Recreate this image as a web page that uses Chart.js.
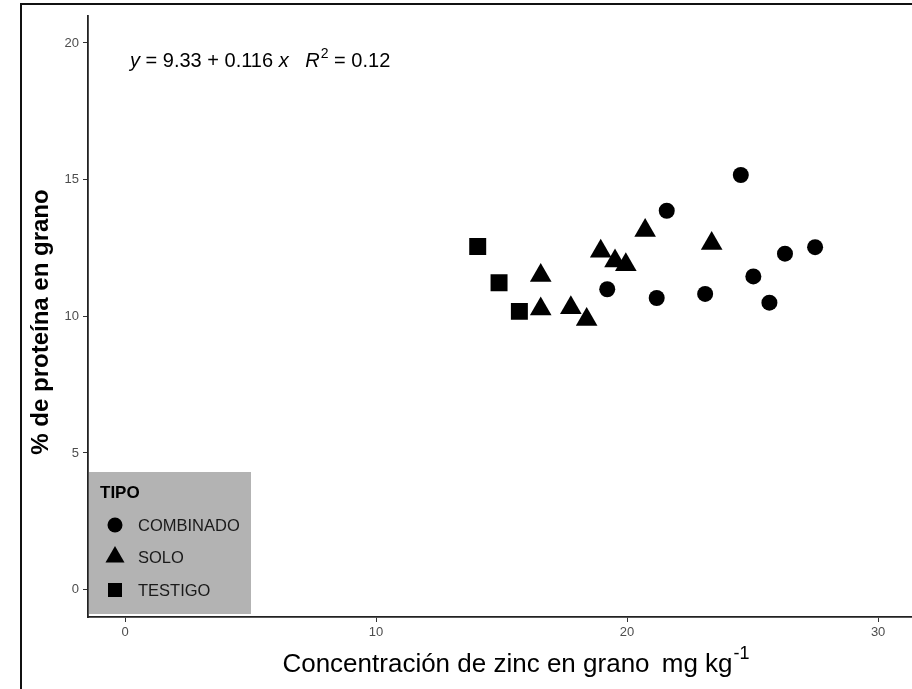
<!DOCTYPE html>
<html>
<head>
<meta charset="utf-8">
<script src="https://cdn.jsdelivr.net/npm/chart.js@4.4.1/dist/chart.umd.min.js"></script>
<style>
  html, body { margin: 0; padding: 0; background: #ffffff; }
  #wrap { width: 912px; height: 689px; }
</style>
</head>
<body>
<div id="wrap"><canvas id="c" width="912" height="689"></canvas></div>
<script>
// ---- data ----
const seriesNames = ['COMBINADO', 'SOLO', 'TESTIGO'];
const legendTitle = 'TIPO';

const combinadoX = [24.53, 21.58, 19.21, 21.18, 23.11, 25.03, 26.29, 27.49, 25.67];
const combinadoY = [15.17, 13.86, 10.99, 10.67, 10.82, 11.46, 12.29, 12.53, 10.50];

const soloX = [16.56, 16.56, 17.76, 18.39, 18.95, 19.52, 19.95, 20.72, 23.37];
const soloY = [11.49, 10.27, 10.31, 9.88, 12.38, 12.02, 11.89, 13.14, 12.66];

const testigoX = [14.05, 14.90, 15.71];
const testigoY = [12.55, 11.23, 10.18];

const xTicks = [0, 10, 20, 30];
const yTicks = [0, 5, 10, 15, 20];

const xTitle = 'Concentración de zinc en grano';
const xUnit = 'mg kg';
const xUnitSup = '-1';
const yTitle = '% de proteína en grano';
const eqIntercept = '9.33';
const eqSlope = '0.116';
const eqR2 = '0.12';

// ---- build ----
function pts(xs, ys) { return xs.map((x, i) => ({ x: x, y: ys[i] })); }

const FONT = '"Liberation Sans", Arial, Helvetica, sans-serif';

const decorations = {
  id: 'decorations',
  beforeDraw(chart) {
    const ctx = chart.ctx;
    ctx.save();
    ctx.fillStyle = '#ffffff';
    ctx.fillRect(0, 0, chart.width, chart.height);
    ctx.restore();
  },
  afterDraw(chart) {
    const ctx = chart.ctx;
    ctx.save();

    // outer frame (left and top)
    ctx.strokeStyle = '#111111';
    ctx.lineWidth = 2;
    ctx.beginPath();
    ctx.moveTo(21, 689);
    ctx.lineTo(21, 4);
    ctx.lineTo(912, 4);
    ctx.stroke();

    // y title
    ctx.save();
    ctx.translate(41, 322);
    ctx.rotate(-Math.PI / 2);
    ctx.fillStyle = '#000000';
    ctx.font = 'bold 24px ' + FONT;
    ctx.textAlign = 'center';
    ctx.textBaseline = 'middle';
    ctx.fillText(yTitle, 0, 0);
    ctx.restore();

    // x title with superscript
    const mainFont = '26px ' + FONT;
    const supFont = '18px ' + FONT;
    ctx.font = mainFont;
    const partA = xTitle + ' ';
    const gap = 5;
    const wA = ctx.measureText(partA).width + gap;
    const wB = ctx.measureText(xUnit).width;
    ctx.font = supFont;
    const wC = ctx.measureText(xUnitSup).width;
    const total = wA + wB + wC + 1;
    let x0 = 516 - total / 2;
    const base = 672;
    ctx.fillStyle = '#000000';
    ctx.textAlign = 'left';
    ctx.textBaseline = 'alphabetic';
    ctx.font = mainFont;
    ctx.fillText(partA, x0, base);
    ctx.fillText(xUnit, x0 + wA, base);
    ctx.font = supFont;
    ctx.fillText(xUnitSup, x0 + wA + wB + 1, base - 13);

    // regression equation
    const eqBase = 67;
    let ex = 130;
    const eqSize = 20;
    const parts = [
      { t: 'y', it: true },
      { t: ' = ' + eqIntercept + ' + ' + eqSlope + ' ', it: false },
      { t: 'x', it: true },
      { t: '   ', it: false },
      { t: 'R', it: true },
      { t: '2', sup: true },
      { t: ' = ' + eqR2, it: false }
    ];
    ctx.fillStyle = '#000000';
    for (const p of parts) {
      if (p.sup) {
        ctx.font = '14px ' + FONT;
        ctx.fillText(p.t, ex + 1, eqBase - 9);
        ex += ctx.measureText(p.t).width + 1;
      } else {
        ctx.font = (p.it ? 'italic ' : '') + eqSize + 'px ' + FONT;
        ctx.fillText(p.t, ex, eqBase);
        ex += ctx.measureText(p.t).width;
      }
    }

    // legend box
    const lx = 89, ly = 472, lw = 162, lh = 142;
    ctx.fillStyle = '#b3b3b3';
    ctx.fillRect(lx, ly, lw, lh);
    ctx.fillStyle = '#000000';
    ctx.font = 'bold 17px ' + FONT;
    ctx.textBaseline = 'middle';
    ctx.fillText(legendTitle, 100, 493);
    const rowY = [525, 557, 590];
    chart.data.datasets.forEach((ds, i) => {
      const cx = 115, cy = rowY[i];
      ctx.fillStyle = '#000000';
      ctx.beginPath();
      if (ds.pointStyle === 'circle') {
        ctx.arc(cx, cy, 7.5, 0, Math.PI * 2);
      } else if (ds.pointStyle === 'triangle') {
        const r = 11;
        ctx.moveTo(cx, cy - r);
        ctx.lineTo(cx + r * 0.866, cy + r * 0.5);
        ctx.lineTo(cx - r * 0.866, cy + r * 0.5);
        ctx.closePath();
      } else {
        ctx.rect(cx - 7, cy - 7, 14, 14);
      }
      ctx.fill();
      ctx.font = '16.5px ' + FONT;
      ctx.fillStyle = '#1a1a1a';
      ctx.fillText(ds.label, 138, cy + 1);
    });

    ctx.restore();
  }
};

const chart = new Chart(document.getElementById('c'), {
  type: 'scatter',
  data: {
    datasets: [
      { label: seriesNames[0], data: pts(combinadoX, combinadoY), pointStyle: 'circle', pointRadius: 8, backgroundColor: '#000', borderColor: '#000', borderWidth: 0, pointHoverRadius: 8 },
      { label: seriesNames[1], data: pts(soloX, soloY), pointStyle: 'triangle', pointRadius: 12.5, backgroundColor: '#000', borderColor: '#000', borderWidth: 0, pointHoverRadius: 12.5 },
      { label: seriesNames[2], data: pts(testigoX, testigoY), pointStyle: 'rect', pointRadius: 12, backgroundColor: '#000', borderColor: '#000', borderWidth: 0, pointHoverRadius: 12 }
    ]
  },
  options: {
    responsive: false,
    animation: false,
    events: [],
    layout: { autoPadding: false, padding: { top: 15.6, right: 0, bottom: 0, left: 0 } },
    plugins: { legend: { display: false }, tooltip: { enabled: false }, title: { display: false } },
    scales: {
      x: {
        type: 'linear',
        min: -1.474,
        max: 31.35,
        afterBuildTicks: s => { s.ticks = xTicks.map(v => ({ value: v })); },
        afterFit: s => { s.height = 72; s.paddingLeft = 0; s.paddingRight = 0; },
        grid: { display: true, drawOnChartArea: false, drawTicks: true, tickLength: 5, tickColor: '#333333', tickWidth: 1 },
        border: { display: true, color: '#222222', width: 1.8 },
        ticks: { color: '#4d4d4d', font: { family: FONT, size: 13 }, padding: 3, maxRotation: 0, callback: v => String(v) },
        title: { display: false }
      },
      y: {
        type: 'linear',
        min: -1,
        max: 21,
        afterBuildTicks: s => { s.ticks = yTicks.map(v => ({ value: v })); },
        afterFit: s => { s.width = 88; s.paddingTop = 0; s.paddingBottom = 0; },
        grid: { display: true, drawOnChartArea: false, drawTicks: true, tickLength: 5, tickColor: '#333333', tickWidth: 1 },
        border: { display: true, color: '#222222', width: 1.8 },
        ticks: { color: '#4d4d4d', font: { family: FONT, size: 13 }, padding: 4, callback: v => String(v) },
        title: { display: false }
      }
    }
  },
  plugins: [decorations]
});
</script>
</body>
</html>
